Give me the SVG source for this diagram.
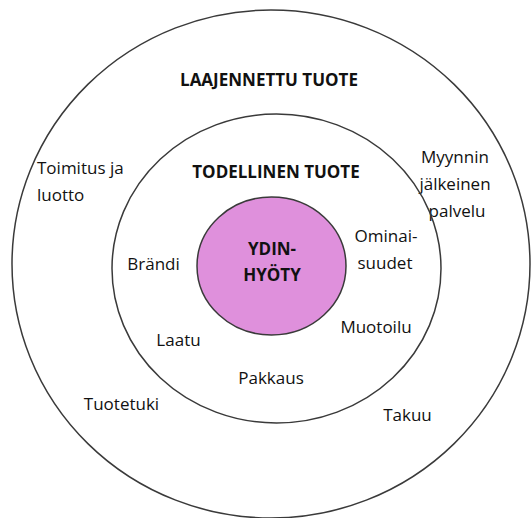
<svg xmlns="http://www.w3.org/2000/svg" width="531" height="518" viewBox="0 0 531 518">
<style>
.ring{fill:none;stroke:#3a3a3a;stroke-width:1.5}
.core{fill:#df90dc;stroke:#3a3a3a;stroke-width:1.5}
text{font-family:"Open Sans","Liberation Sans",sans-serif;font-size:17px;fill:#111}
.m{text-anchor:middle}
.b{font-weight:bold;text-anchor:middle}
</style>
<rect width="531" height="518" fill="#fff"/>
<g id="outer">
<ellipse class="ring" cx="271" cy="264" rx="259" ry="254"/>
<text class="b" x="269" y="86">LAAJENNETTU TUOTE</text>
<text x="37" y="174">Toimitus ja</text>
<text x="37" y="201">luotto</text>
<text class="m" x="455" y="163">Myynnin</text>
<text class="m" x="455" y="190">jälkeinen</text>
<text class="m" x="457" y="217">palvelu</text>
<text class="m" x="121.5" y="410">Tuotetuki</text>
<text class="m" x="407.5" y="421">Takuu</text>
</g>
<g id="middle">
<ellipse class="ring" cx="276.5" cy="268.5" rx="164.5" ry="154.5"/>
<text class="b" x="276" y="178">TODELLINEN TUOTE</text>
<text class="m" x="153.5" y="270">Brändi</text>
<text class="m" x="386" y="242">Ominai-</text>
<text class="m" x="385" y="269">suudet</text>
<text class="m" x="178.5" y="346">Laatu</text>
<text class="m" x="376" y="333">Muotoilu</text>
<text class="m" x="271" y="384">Pakkaus</text>
</g>
<g id="core">
<ellipse class="core" cx="271.5" cy="266" rx="74.5" ry="69"/>
<text class="b" x="272" y="255">YDIN-</text>
<text class="b" x="272" y="281">HYÖTY</text>
</g>
</svg>
